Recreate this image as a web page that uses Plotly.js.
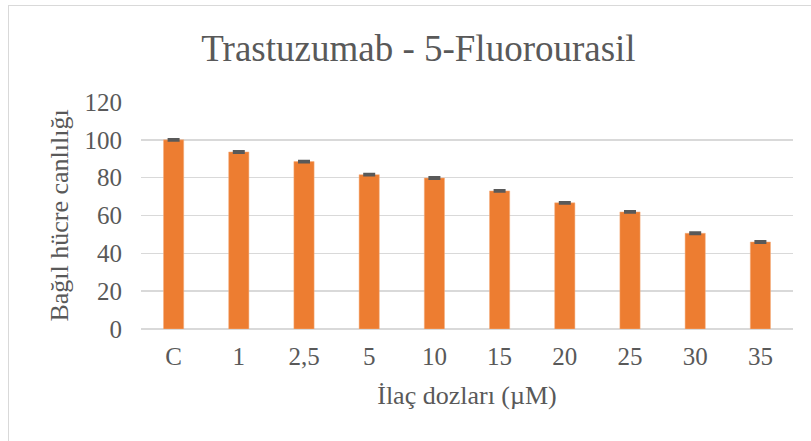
<!DOCTYPE html>
<html>
<head>
<meta charset="utf-8">
<script src="https://cdn.plot.ly/plotly-3.0.1.min.js"></script>
<style>
html,body{margin:0;padding:0;background:#fff;}
#chart{width:811px;height:441px;position:absolute;left:0;top:0;}
#frame{position:absolute;left:8px;top:5px;width:810px;height:440px;border:1px solid #d9d9d9;pointer-events:none;}
</style>
</head>
<body>
<div id="chart"></div>
<div id="frame"></div>
<script>
var categories = ['C', '1', '2,5', '5', '10', '15', '20', '25', '30', '35'];
var viability = [100, 93.6, 88.5, 81.6, 79.8, 73.0, 66.7, 61.9, 50.6, 46.0];
var errors = [0.5, 0.5, 0.5, 0.5, 0.5, 0.5, 0.5, 0.5, 0.5, 0.5];
var yTicks = [0, 20, 40, 60, 80, 100, 120];

var trace = {
  type: 'bar',
  x: categories,
  y: viability,
  width: 0.31,
  marker: {color: '#ED7D31', line: {color: '#F4B183', width: 0.5}},
  error_y: {type: 'data', array: errors, visible: true, color: '#595959', thickness: 2, width: 6}
};

var font = 'Liberation Serif';
var layout = {
  width: 811, height: 441,
  margin: {l: 141, r: 18, t: 102, b: 112},
  paper_bgcolor: 'rgba(0,0,0,0)',
  plot_bgcolor: '#fff',
  font: {family: font, color: '#595959'},
  showlegend: false,
  bargap: 0.69,
  title: {text: 'Trastuzumab - 5-Fluorourasil', font: {family: font, size: 37, color: '#595959'}, x: 0.516, xanchor: 'center', xref: 'container', y: 0.89, yref: 'container', yanchor: 'middle'},
  xaxis: {
    type: 'category',
    tickfont: {family: font, size: 25, color: '#595959'},
    showline: false, showgrid: false, zeroline: false,
    ticks: '', ticklen: 0, ticklabelstandoff: 10,
    automargin: false,
    title: {text: 'İlaç dozları (µM)', font: {family: font, size: 26, color: '#595959'}, standoff: 16}
  },
  yaxis: {
    range: [0, 120],
    tickvals: yTicks,
    tickfont: {family: font, size: 25, color: '#595959'},
    showgrid: true, gridcolor: '#d9d9d9', gridwidth: 1.5,
    zeroline: true, zerolinecolor: '#d9d9d9', zerolinewidth: 1.5,
    showline: false, ticks: '', ticklabelstandoff: 18,
    automargin: false,
    title: {text: 'Bağıl hücre canlılığı', font: {family: font, size: 26, color: '#595959'}, standoff: 8}
  }
};

Plotly.newPlot('chart', [trace], layout, {displayModeBar: false, staticPlot: true});
</script>
</body>
</html>
